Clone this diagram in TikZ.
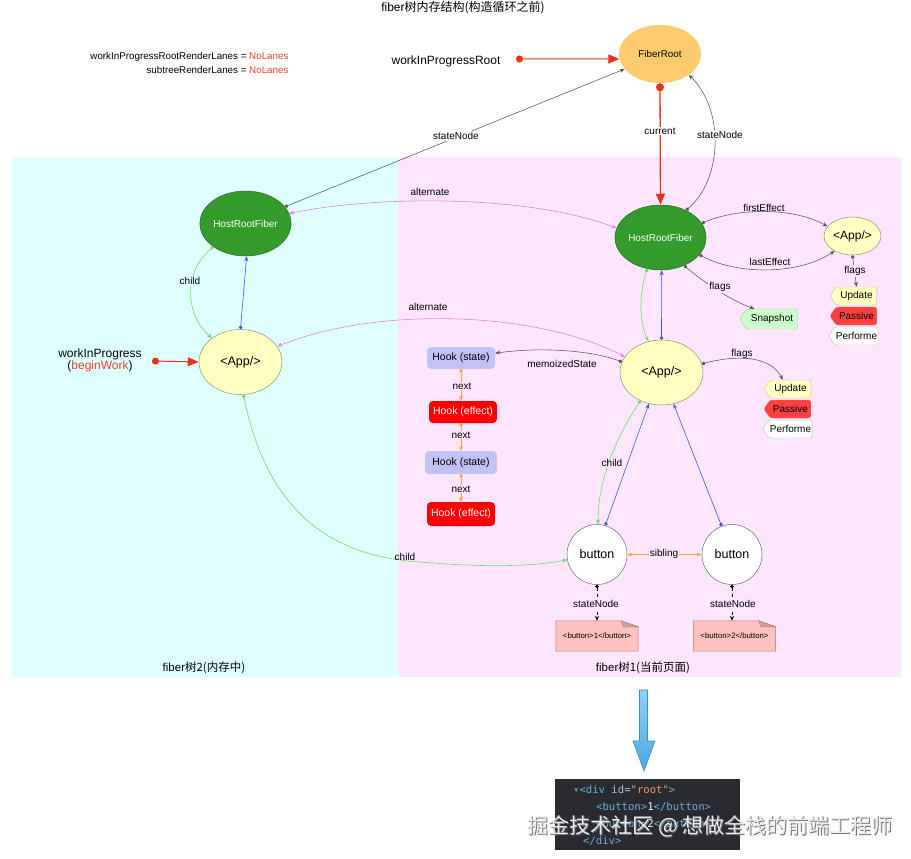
\documentclass[tikz,border=0pt]{standalone}
\usepackage{fontspec}
\setmainfont{Liberation Sans}
\newfontfamily\cjk{Noto Sans CJK SC}
\newfontfamily\monof{DejaVu Sans Mono}
\usetikzlibrary{shapes.geometric,shapes.symbols,arrows.meta,calc}
\pgfdeclarelayer{back}
\pgfdeclarelayer{mid}
\pgfsetlayers{back,mid,main}
\newcommand\myfs[1]{\fontsize{#1}{#1}\selectfont}
\definecolor{bgcyan}{HTML}{E0FFFF}
\definecolor{bgpink}{HTML}{FFE6FF}
\definecolor{frfill}{HTML}{FDCB6E}
\definecolor{hrfgreen}{HTML}{359A2C}
\definecolor{hrfborder}{HTML}{2A6A20}
\definecolor{appfill}{HTML}{FFFFC2}
\definecolor{appborder}{HTML}{8E8E70}
\definecolor{redln}{HTML}{E8321E}
\definecolor{violetln}{HTML}{E27EEA}
\definecolor{greenln}{HTML}{66E066}
\definecolor{blueln}{HTML}{3658E0}
\definecolor{orangeln}{HTML}{F5A33A}
\definecolor{grayln}{HTML}{555555}
\definecolor{hookstate}{HTML}{C2C2F8}
\definecolor{docfill}{HTML}{FFC0C0}
\definecolor{docborder}{HTML}{B07878}
\definecolor{codebg}{HTML}{292B30}
\definecolor{codeblue}{HTML}{6AB0DE}
\definecolor{codeattr}{HTML}{A9C4D8}
\definecolor{codeorange}{HTML}{E9A06B}
\definecolor{lanered}{HTML}{E8412A}
\definecolor{arrowtop}{HTML}{8ED2F6}
\definecolor{arrowbot}{HTML}{4AA6E2}
\definecolor{arrowline}{HTML}{3A8CCC}
\tikzset{
  big/.style={ellipse, inner sep=0pt, minimum width=83, minimum height=65, font=\myfs{12.5}},
  hrf/.style={big, fill=hrfgreen, draw=hrfborder, line width=0.5pt, text=white, font=\myfs{10}},
  app/.style={big, fill=appfill, draw=appborder, line width=0.5pt},
  btn/.style={circle, inner sep=0pt, minimum size=60, fill=white, draw=black!60, line width=0.5pt, font=\myfs{12.5}},
  hook/.style={rectangle, rounded corners=4pt, inner sep=2pt, minimum height=22, minimum width=68, font=\myfs{10.5}},
  tag/.style={signal, signal to=west, signal pointer angle=110, rounded corners=2.5pt,
     minimum width=47, minimum height=18, inner sep=1pt, font=\myfs{10}, line width=0.4pt},
  docnode/.style={rectangle, minimum width=82, minimum height=30, inner sep=0pt, font=\myfs{7.8}},
  lbl/.style={font=\myfs{10}, inner sep=1pt},
  dotst/.style={{Circle[length=3.6pt]}-{Stealth[length=5pt,width=4pt]}},
  twoway/.style={{Stealth[length=5pt,width=4pt]}-{Stealth[length=5pt,width=4pt]}},
  gl/.style={draw=grayln, line width=0.55pt},
}
\begin{document}
\begin{tikzpicture}[x=1pt,y=-1pt]
\useasboundingbox (0,0) rectangle (911,859);
\begin{pgfonlayer}{back}
\fill[bgcyan] (12,157) rectangle (398,677);
\fill[bgpink] (398,157) rectangle (901,677);
\end{pgfonlayer}

% texts at top
\node[font=\myfs{12}] (title) at (463,8) {fiber{\cjk 树内存结构(构造循环之前)}};
\node[anchor=east, font=\myfs{9.8}] (lanes1) at (292,57) {workInProgressRootRenderLanes = \textcolor{lanered}{NoLanes}};
\node[anchor=east, font=\myfs{9.8}] (lanes2) at (292,70) {subtreeRenderLanes = \textcolor{lanered}{NoLanes}};
\node[font=\myfs{12}] (wipr) at (446,61) {workInProgressRoot};
\coordinate (wiprdot) at (516,59);

% nodes
\node[ellipse, inner sep=0pt, minimum width=82, minimum height=58, fill=frfill, font=\myfs{9.8}] (fr) at (660,54) {FiberRoot};
\node[hrf] (lhrf) at (245.5,223.5) {HostRootFiber};
\node[app] (lapp) at (240.5,362) {<App/>};
\node[hrf] (rhrf) at (660.5,237.5) {HostRootFiber};
\node[app, minimum width=57, minimum height=38, font=\myfs{12}] (sapp) at (852.5,236) {<App/>};
\node[app] (rapp) at (661.5,372.5) {<App/>};
\node[btn] (b1) at (597,554.5) {button};
\node[btn] (b2) at (732,554.5) {button};

\node[align=center, font=\myfs{12}] (wip) at (100,360) {workInProgress\\(\textcolor{lanered}{beginWork})};
\coordinate (wipdot) at (152,361);

% hooks
\node[hook, fill=hookstate] (h1) at (461,358) {Hook (state)};
\node[hook, fill=red, text=white] (h2) at (463,412) {Hook (effect)};
\node[hook, fill=hookstate, minimum width=72, minimum height=23] (h3) at (461,462.5) {Hook (state)};
\node[hook, fill=red, text=white, minimum height=24] (h4) at (461,514) {Hook (effect)};

% tags
\node[tag, fill=appfill, draw=black!25] (u1) at (856.5,296) {Update};
\node[tag, fill=red!75, draw=red!60] (p1) at (856.5,316) {Passive};
\node[tag, fill=white, draw=black!25] (f1) at (856.5,336) {Performe};
\node[tag, fill=green!20, draw=black!25, minimum width=58, minimum height=20] (snap) at (772,319) {Snapshot};
\node[tag, fill=appfill, draw=black!25] (u2) at (790.5,389) {Update};
\node[tag, fill=red!75, draw=red!60] (p2) at (790.5,409) {Passive};
\node[tag, fill=white, draw=black!25] (f2) at (790.5,429) {Performe};

% documents
\node[docnode] (d1) at (597,636) {<button>1</button>};
\node[docnode] (d2) at (734.5,636) {<button>2</button>};
\begin{pgfonlayer}{mid}
\foreach \d in {d1,d2}{
  \draw[draw=docborder, fill=docfill, line width=0.5pt] (\d.south west) -- (\d.north west) -- ($(\d.north east)+(-17,0)$) -- ($(\d.north east)+(0,6)$) -- (\d.south east) -- cycle;
  \draw[draw=docborder, fill=docfill!80!black!90, line width=0.4pt] ($(\d.north east)+(-17,0)$) -- ($(\d.north east)+(-15,6)$) -- ($(\d.north east)+(0,6)$) -- cycle;
}
\end{pgfonlayer}

% region labels
\node[font=\myfs{11.5}] (reg2) at (204,668) {fiber{\cjk 树2(内存中)}};
\node[font=\myfs{11.5}] (reg1) at (643,668) {fiber{\cjk 树1(当前页面)}};

% ---------- connectors ----------
\draw[redln, line width=1pt, {Circle[length=7pt]}-{Triangle[length=11pt,width=9pt]}] (wiprdot) -- (fr.187);
\draw[redln, line width=1pt, {Circle[length=7pt]}-{Triangle[length=11pt,width=9pt]}] (wipdot) -- (lapp.west);
\draw[redln, line width=1.3pt, {Circle[length=8pt]}-{Triangle[length=11pt,width=9pt]}] (fr.south) -- (rhrf.north);
\node[lbl, fill=white] (lcur) at (660,131) {current};

\draw[gl, dotst] (lhrf.23) -- (fr.203);
\node[lbl, fill=white] (lsn1) at (456,136) {stateNode};
\draw[gl, dotst] (rhrf.47) .. controls (722,180) and (725,110) .. (fr.-36);
\node[lbl, fill=white] (lsn2) at (720,135) {stateNode};

\draw[violetln, line width=0.6pt, twoway] (rhrf.168) .. controls (530,195) and (380,195) .. (lhrf.13);
\node[lbl] (lalt1) at (430,192) {alternate};
\draw[violetln, line width=0.6pt, twoway] (rapp.157) .. controls (540,312) and (380,305) .. (lapp.23);
\node[lbl] (lalt2) at (428,307) {alternate};

\draw[greenln, line width=0.6pt, dotst] (lhrf.216) .. controls (183,272) and (185,315) .. (lapp.140);
\node[lbl, fill=bgcyan] (lch1) at (190,281) {child};
\draw[blueln, line width=0.6pt, dotst] (lapp.90) -- (lhrf.272);

\draw[greenln, line width=0.6pt, dotst] (rhrf.-113) .. controls (639,295) and (639,320) .. (rapp.113);
\draw[blueln, line width=0.6pt, dotst] (rapp.90) -- (rhrf.-88);

\draw[gl, dotst] (rhrf.19) .. controls (740,207) and (795,208) .. (sapp.159);
\node[lbl] (lfe) at (764,208) {firstEffect};
\draw[gl, dotst] (rhrf.-24) .. controls (740,276) and (800,274) .. (sapp.220);
\node[lbl] (lle) at (770,262) {lastEffect};
\draw[gl, dotst] (rhrf.-50) .. controls (705,283) and (730,300) .. (snap.150);
\node[lbl, fill=bgpink] (lfl1) at (720,287) {flags};
\draw[gl, dotst] (sapp.south) -- (u1.north);
\node[lbl, fill=bgpink] (lfl2) at (855,271) {flags};

\draw[gl, dotst] (rapp.165) .. controls (590,350) and (540,347) .. (h1.8);
\node[lbl] (lms) at (562,364) {memoizedState};
\draw[gl, dotst] (rapp.12) .. controls (735,355) and (770,355) .. (u2.130);
\node[lbl] (lfl3) at (742,354) {flags};

\draw[orangeln, line width=0.6pt, dotst] (h1.south) -- (h1.south |- h2.north);
\node[lbl, fill=bgpink] (ln1) at (462,386) {next};
\draw[orangeln, line width=0.6pt, dotst] (h1.south |- h2.south) -- (h1.south |- h3.north);
\node[lbl, fill=bgpink] (ln2) at (461,435) {next};
\draw[orangeln, line width=0.6pt, dotst] (h1.south |- h3.south) -- (h1.south |- h4.north);
\node[lbl, fill=bgpink] (ln3) at (461,489) {next};

\draw[greenln, line width=0.6pt, dotst] (rapp.-127) .. controls (615,440) and (598,480) .. (b1.88);
\node[lbl] (lch2) at (612,463) {child};
\draw[blueln, line width=0.6pt, dotst] (b1.74) -- (rapp.-112);
\draw[blueln, line width=0.6pt, dotst] (b2.110) -- (rapp.-69);

\draw[greenln, line width=0.6pt, dotst] (lapp.275) .. controls (265,500) and (320,556) .. (420,562) .. controls (490,568) and (535,566) .. (b1.190);
\node[lbl] (lch3) at (405,557) {child};

\draw[orangeln, line width=0.6pt, twoway] (b1.east) -- (b2.west);
\node[lbl, fill=bgpink] (lsib) at (664,554) {sibling};

\draw[black, line width=0.5pt, dashed, dotst] (b1.south) -- (d1.north);
\node[lbl, fill=bgpink] (lsn3) at (596,604) {stateNode};
\draw[black, line width=0.5pt, dashed, dotst] (b2.south) -- (b2.south |- d2.north);
\node[lbl, fill=bgpink] (lsn4) at (733,604) {stateNode};

% big blue arrow
\shade[top color=arrowtop, bottom color=arrowbot, draw=arrowline, line width=0.6pt]
  (639.5,690) -- (647.5,690) -- (647.5,741) -- (655,741) -- (644,771) -- (633,741) -- (639.5,741) -- cycle;

% code screenshot
\fill[codebg] (555,779) rectangle (740,850);
\begin{scope}[every node/.style={anchor=base west, inner sep=0pt, font=\monof\myfs{10.6}}]
\node (c1) at (573,793) {\textcolor{gray}{▾}\textcolor{codeblue}{<div} \textcolor{codeattr}{id=}\textcolor{codeorange}{"root"}\textcolor{codeblue}{>}};
\node (c2) at (596,810) {\textcolor{codeblue}{<button>}\textcolor{white}{1}\textcolor{codeblue}{</button>}};
\node (c3) at (596,827) {\textcolor{codeblue}{<button>}\textcolor{white}{2}\textcolor{codeblue}{</button>}};
\node (c4) at (583,844) {\textcolor{codeblue}{</div>}};
\end{scope}
% watermark
\node[font=\cjk\myfs{21}, text=black!55] (wmshadow) at (711,827) {掘金技术社区 @ 想做全栈的前端工程师};
\node[font=\cjk\myfs{21}, text=white!92!black] (wm) at (710,826) {掘金技术社区 @ 想做全栈的前端工程师};
\end{tikzpicture}
\end{document}
